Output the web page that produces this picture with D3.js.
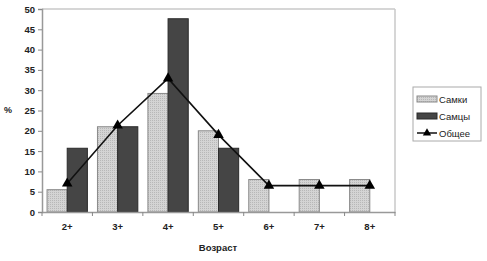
<!DOCTYPE html>
<html><head><meta charset="utf-8">
<script src="https://cdn.jsdelivr.net/npm/d3@7"></script>
<style>body{margin:0;background:#fff;} text{font-family:"Liberation Sans",Arial,sans-serif;}</style>
</head><body><svg id="c" width="487" height="261"></svg>
<script>
const categories = ["2+","3+","4+","5+","6+","7+","8+"];
const females = [5.5,21,29.2,20,8,8,8];
const males = [15.7,21,47.6,15.7,0,0,0];
const overall = [7,21.3,32.9,19,6.5,6.5,6.5];
const yTicks = [0,5,10,15,20,25,30,35,40,45,50];
const seriesNames = ["Самки","Самцы","Общее"];

const svg = d3.select("#c");
const m = {l:42, r:395, t:9, b:212};
const x = d3.scaleBand().domain(categories).range([m.l, m.r]).paddingInner(0.2).paddingOuter(0.1);
const xb = d3.scaleBand().domain(categories).range([m.l, m.r]);
const y = d3.scaleLinear().domain([0,50]).range([m.b, m.t]);
const sub = d3.scaleBand().domain(["f","m"]).range([0, x.bandwidth()]);

const defs = svg.append("defs");
const pat = defs.append("pattern").attr("id","dots").attr("width",2).attr("height",2).attr("patternUnits","userSpaceOnUse");
pat.append("rect").attr("width",2).attr("height",2).attr("fill","#d4d4d4");
pat.append("rect").attr("width",1).attr("height",1).attr("fill","#b8b8b8");

// plot frame
svg.append("line").attr("x1",m.l).attr("x2",m.r).attr("y1",m.t).attr("y2",m.t).attr("stroke","#c8c8c8").attr("stroke-width",1.5);
svg.append("line").attr("x1",m.r).attr("x2",m.r).attr("y1",m.t).attr("y2",m.b).attr("stroke","#c8c8c8").attr("stroke-width",1.5);

// bars
const g = svg.append("g");
g.selectAll(".f").data(categories).join("rect")
  .attr("x",d=>x(d)+sub("f")).attr("width",sub.bandwidth())
  .attr("y",(d,i)=>y(females[i])).attr("height",(d,i)=>y(0)-y(females[i]))
  .attr("fill","url(#dots)").attr("stroke","#8a8a8a").attr("stroke-width",1);
g.selectAll(".m").data(categories).join("rect")
  .attr("x",d=>x(d)+sub("m")).attr("width",sub.bandwidth())
  .attr("y",(d,i)=>y(males[i])).attr("height",(d,i)=>y(0)-y(males[i]))
  .attr("fill","#454545").attr("stroke","#2a2a2a").attr("stroke-width",1)
  .attr("display",(d,i)=>males[i]>0?null:"none");

// axes
const yAxis = d3.axisLeft(y).tickValues(yTicks).tickSize(4).tickPadding(3);
const ya = svg.append("g").attr("transform",`translate(${m.l},0)`).call(yAxis);
const xAxis = d3.axisBottom(xb).tickSize(0).tickPadding(11);
const xa = svg.append("g").attr("transform",`translate(0,${m.b})`).call(xAxis);
xa.selectAll(".tickmark").data(categories.concat(["end"])).join("line")
  .attr("class","tickmark")
  .attr("x1",(d,i)=>m.l + i*xb.bandwidth()).attr("x2",(d,i)=>m.l + i*xb.bandwidth())
  .attr("y1",0).attr("y2",4).attr("stroke","#888");
[ya,xa].forEach(a=>{
  a.select(".domain").attr("stroke","#999").attr("stroke-width",1.5);
  a.selectAll(".tick line").attr("stroke","#888");
  a.selectAll("text").attr("font-size",9.5).attr("font-weight","bold").attr("fill","#222").attr("font-family","Liberation Sans, Arial, sans-serif");
});

// line + triangles
const cx = d => x(d) + x.bandwidth()/2;
const line = d3.line().x((d,i)=>cx(categories[i])).y(d=>y(d));
svg.append("path").datum(overall).attr("d",line).attr("fill","none").attr("stroke","#111").attr("stroke-width",1.6);
const tri = d3.symbol().type(d3.symbolTriangle).size(48);
svg.selectAll(".tri").data(overall).join("path")
  .attr("transform",(d,i)=>`translate(${cx(categories[i])},${y(d)})`)
  .attr("d",tri).attr("fill","#000");

// axis titles
svg.append("text").attr("x",218).attr("y",251).attr("text-anchor","middle").attr("font-size",9.5).attr("font-weight","bold").attr("fill","#222").text("Возраст");
svg.append("text").attr("x",8).attr("y",113).attr("text-anchor","middle").attr("font-size",9).attr("font-weight","bold").attr("fill","#222").text("%");

// legend
const lg = svg.append("g").attr("transform","translate(413,87)");
lg.append("rect").attr("width",68).attr("height",54).attr("fill","#fff").attr("stroke","#aaa").attr("stroke-width",1);
const ly = [12,29,46];
lg.append("rect").attr("x",4).attr("y",ly[0]-3).attr("width",20).attr("height",6).attr("fill","url(#dots)").attr("stroke","#8a8a8a");
lg.append("rect").attr("x",4).attr("y",ly[1]-3).attr("width",20).attr("height",6).attr("fill","#454545").attr("stroke","#2a2a2a");
lg.append("line").attr("x1",4).attr("x2",24).attr("y1",ly[2]).attr("y2",ly[2]).attr("stroke","#111").attr("stroke-width",1.5);
lg.append("path").attr("transform",`translate(14,${ly[2]})`).attr("d",d3.symbol().type(d3.symbolTriangle).size(30)).attr("fill","#000");
lg.selectAll(".lt").data(seriesNames).join("text")
  .attr("x",26).attr("y",(d,i)=>ly[i]+3.5).attr("font-size",9.5).attr("fill","#222").text(d=>d);
</script></body></html>
